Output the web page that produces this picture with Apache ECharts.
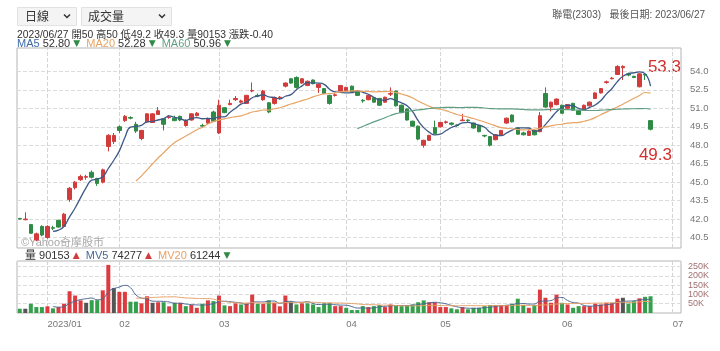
<!DOCTYPE html>
<html>
<head>
<meta charset="utf-8">
<script src="https://cdn.jsdelivr.net/npm/echarts@6/dist/echarts.min.js"></script>
<style>
html, body { margin: 0; padding: 0; background: #fff; }
#main { width: 720px; height: 351px; }
</style>
</head>
<body>
<div id="main"></div>
<script>
// 交易日 (含 6/28 之後未有資料的日期)
var dates = [
  '2022/12/26','2022/12/27','2022/12/28','2022/12/29','2022/12/30',
  '2023/01/03','2023/01/04','2023/01/05','2023/01/06','2023/01/09','2023/01/10','2023/01/11','2023/01/12','2023/01/13','2023/01/16','2023/01/17','2023/01/30','2023/01/31',
  '2023/02/01','2023/02/02','2023/02/03','2023/02/06','2023/02/07','2023/02/08','2023/02/09','2023/02/10','2023/02/13','2023/02/14','2023/02/15','2023/02/16','2023/02/17','2023/02/20','2023/02/21','2023/02/22','2023/02/23','2023/02/24',
  '2023/03/01','2023/03/02','2023/03/03','2023/03/06','2023/03/07','2023/03/08','2023/03/09','2023/03/10','2023/03/13','2023/03/14','2023/03/15','2023/03/16','2023/03/17','2023/03/20','2023/03/21','2023/03/22','2023/03/23','2023/03/24','2023/03/27','2023/03/28','2023/03/29','2023/03/30','2023/03/31',
  '2023/04/06','2023/04/07','2023/04/10','2023/04/11','2023/04/12','2023/04/13','2023/04/14','2023/04/17','2023/04/18','2023/04/19','2023/04/20','2023/04/21','2023/04/24','2023/04/25','2023/04/26','2023/04/27','2023/04/28',
  '2023/05/02','2023/05/03','2023/05/04','2023/05/05','2023/05/08','2023/05/09','2023/05/10','2023/05/11','2023/05/12','2023/05/15','2023/05/16','2023/05/17','2023/05/18','2023/05/19','2023/05/22','2023/05/23','2023/05/24','2023/05/25','2023/05/26','2023/05/29','2023/05/30','2023/05/31',
  '2023/06/01','2023/06/02','2023/06/05','2023/06/06','2023/06/07','2023/06/08','2023/06/09','2023/06/12','2023/06/13','2023/06/14','2023/06/15','2023/06/16','2023/06/19','2023/06/20','2023/06/21','2023/06/26','2023/06/27','2023/06/28','2023/06/29','2023/06/30',
  '2023/07/03','2023/07/04'
];

var monthStarts = ['2023/01/03','2023/02/01','2023/03/01','2023/04/06','2023/05/02','2023/06/01','2023/07/03'];
var monthLabels = ['2023/01','02','03','04','05','06','07'];
var priceTicks = [40.5, 42.0, 43.5, 45.0, 46.5, 48.0, 49.5, 51.0, 52.5, 54.0];

var openP = [
  42.05,41.95,41.55,40.3,41.4,40.5,41.3,41.9,41.4,43.6,
  44.55,45.2,45.4,45.8,45.3,45.0,47.9,48.3,49.5,50.0,
  50.25,49.7,48.55,49.9,49.85,50.5,50.15,50.25,50.2,50.35,
  49.6,50.05,50.4,49.6,49.8,50.7,49.0,51.05,51.3,51.7,
  51.5,51.4,52.4,52.05,51.7,51.45,51.4,51.8,52.8,53.4,
  53.5,53.05,52.85,53.3,52.7,52.6,52.05,52.05,52.4,52.45,
  52.8,52.4,51.65,51.7,51.85,51.8,51.5,52.15,52.4,51.25,
  50.95,49.95,49.55,48.0,48.4,49.45,49.5,49.85,49.8,49.65,
  50.0,50.05,49.8,49.6,48.8,48.7,48.45,48.8,49.8,50.45,
  49.4,49.0,48.8,49.2,49.1,52.2,51.1,51.3,51.25,51.0,
  51.4,50.8,50.9,51.2,51.8,52.25,53.1,53.4,53.75,54.3,
  53.8,53.6,52.75,53.75,50.0
];
var closeP = [
  42.0,42.0,40.85,40.8,40.7,41.4,41.25,41.35,42.4,44.5,
  45.0,45.45,45.45,45.4,44.9,46.0,48.8,48.8,49.2,50.35,
  50.2,49.15,49.2,50.55,50.55,50.8,49.7,50.3,50.0,50.05,
  50.0,50.55,50.6,49.55,50.15,49.95,51.25,50.65,51.4,51.8,
  51.6,52.05,52.45,52.0,52.4,50.7,51.85,51.9,53.05,53.05,
  52.7,53.4,53.2,53.0,52.95,52.2,51.4,52.1,52.85,52.7,
  52.3,52.05,51.6,52.05,51.5,51.25,51.9,52.2,51.2,50.65,
  50.05,49.55,48.5,48.4,48.8,48.95,49.85,49.9,49.7,49.6,
  50.05,50.0,49.4,49.1,48.75,48.0,48.85,49.2,50.2,49.9,
  48.9,48.85,49.15,48.85,50.4,51.1,51.5,51.75,50.6,51.3,
  50.85,50.5,51.25,51.5,52.25,52.6,53.15,53.45,54.4,54.4,
  53.7,53.5,53.8,53.7,49.3
];
var lowP = [
  41.95,41.9,40.8,40.2,40.6,40.4,41.1,41.3,41.35,43.4,
  44.4,45.1,45.2,45.3,44.7,44.9,47.5,48.1,49.0,49.9,
  50.1,49.0,48.4,49.8,49.8,50.45,49.2,50.15,49.95,49.95,
  49.5,50.0,50.35,49.4,49.7,49.9,48.9,50.6,51.25,51.6,
  51.4,51.35,52.3,51.9,51.6,50.6,51.3,51.7,52.7,53.0,
  52.6,53.0,52.8,52.95,52.25,52.15,51.3,51.95,52.35,52.4,
  52.25,52.0,51.45,51.65,51.45,51.2,51.45,52.0,51.15,50.6,
  50.0,49.5,48.4,47.8,48.35,48.9,49.45,49.75,49.6,49.5,
  49.95,49.9,49.35,49.05,48.65,47.9,48.4,48.75,49.75,49.85,
  48.85,48.8,48.75,48.8,49.05,51.05,50.75,51.25,50.55,50.95,
  50.8,50.45,50.85,51.15,51.75,52.2,53.0,53.35,53.7,53.3,
  53.6,53.45,52.7,53.3,49.2
];
var highP = [
  42.1,42.55,41.6,40.9,41.5,41.5,41.45,41.95,42.5,44.6,
  45.1,45.6,45.6,45.95,45.35,46.1,48.9,49.0,49.6,50.45,
  50.35,49.9,49.25,50.6,50.6,51.1,50.2,50.45,50.4,50.4,
  50.1,50.6,50.7,49.75,50.25,50.8,51.7,51.1,51.7,52.0,
  51.7,52.1,53.1,52.2,52.5,51.5,51.95,52.0,53.1,53.45,
  53.6,53.45,53.25,53.35,53.0,52.65,52.1,52.2,52.9,52.75,
  52.85,52.45,51.75,52.1,51.9,51.85,51.95,52.7,52.45,51.3,
  51.0,50.0,49.6,48.45,48.85,50.0,49.9,50.0,49.85,49.7,
  50.55,50.1,49.85,49.65,48.85,48.75,48.9,49.25,50.25,50.5,
  49.45,49.1,49.2,49.25,50.7,52.7,51.55,51.8,51.3,51.35,
  51.45,50.85,51.3,51.55,52.3,52.65,53.25,53.55,54.5,54.5,
  53.9,53.65,53.85,53.85,50.0
];
var volumes = [
  23000,23000,50000,32000,32000,36000,25000,32000,50000,117000,
  94000,68000,55000,69000,69000,122000,259000,135000,114000,114000,
  61000,61000,52000,90000,55000,58000,58000,36000,55000,55000,
  37000,43000,28000,50000,68000,64000,94000,41000,37000,52000,
  46000,52000,99000,50000,50000,68000,55000,36000,94000,61000,
  46000,52000,52000,46000,32000,52000,55000,37000,37000,28000,
  16000,16000,37000,32000,37000,43000,32000,46000,43000,37000,
  41000,46000,58000,68000,58000,58000,32000,32000,25000,20000,
  32000,20000,28000,28000,37000,43000,43000,43000,43000,50000,
  77000,43000,28000,43000,126000,82000,55000,99000,55000,46000,
  28000,37000,37000,37000,50000,46000,55000,55000,77000,82000,
  51000,64000,79000,87000,90153
];

var UP = '#d23b3b', DOWN = '#2f8a45', FLAT = '#555555';
var VUP = '#dc3b3f', VDOWN = '#34a04c';

function calcMA(arr, n) {
  var out = [];
  for (var i = 0; i < arr.length; i++) {
    if (i < n + 1) { out.push('-'); continue; }
    var sum = 0;
    for (var j = i - n + 1; j <= i; j++) sum += arr[j];
    out.push(+(sum / n).toFixed(3));
  }
  return out;
}

var candles = openP.map(function (o, i) {
  return [o, closeP[i], lowP[i], highP[i]];
});

// 量的顏色依收盤價與前一日相比
var volBars = volumes.map(function (v, i) {
  var prev = i > 0 ? closeP[i - 1] : openP[0];
  var c = closeP[i] > prev ? VUP : (closeP[i] < prev ? VDOWN : FLAT);
  return { value: v, itemStyle: { color: c } };
});

var monthLines = monthStarts.map(function (d) { return { xAxis: d }; });

var chart = echarts.init(document.getElementById('main'));

var option = {
  animation: false,
  textStyle: { fontFamily: '"Liberation Sans", Arial, "Noto Sans CJK TC", sans-serif' },
  grid: [
    { left: 17, right: 39, top: 48, height: 200, show: true, borderColor: '#b5b5b5', borderWidth: 1 },
    { left: 17, right: 39, top: 261, height: 52, show: true, borderColor: '#b5b5b5', borderWidth: 1 }
  ],
  xAxis: [
    {
      type: 'category', gridIndex: 0, data: dates, boundaryGap: true,
      axisLine: { show: false }, axisTick: { show: false }, axisLabel: { show: false },
      splitLine: { show: false }
    },
    {
      type: 'category', gridIndex: 1, data: dates, boundaryGap: true,
      axisLine: { show: false }, axisTick: { show: false }, splitLine: { show: false },
      axisLabel: {
        color: '#777', fontSize: 9.5, align: 'left', margin: 7,
        interval: function (idx, val) { return monthStarts.indexOf(val) >= 0; },
        formatter: function (val) {
          var k = monthStarts.indexOf(val);
          return k >= 0 ? monthLabels[k] : '';
        }
      }
    }
  ],
  yAxis: [
    {
      type: 'value', gridIndex: 0, position: 'right', min: 39.65, max: 55.9,
      axisLine: { show: false },
      axisTick: { show: false, customValues: priceTicks },
      axisLabel: {
        customValues: priceTicks, color: '#777', fontSize: 9.5, margin: 9,
        formatter: function (v) { return v.toFixed(1); }
      },
      splitLine: { show: true, lineStyle: { type: 'dashed', color: '#dcdcdc' } }
    },
    {
      type: 'value', gridIndex: 1, position: 'right', min: 0, max: 280000, interval: 50000,
      axisLine: { show: false }, axisTick: { show: false },
      axisLabel: {
        color: '#a07070', fontSize: 9, margin: 7, showMinLabel: false, showMaxLabel: false,
        formatter: function (v) { return v === 0 ? '' : (v / 1000) + 'K'; }
      },
      splitLine: { show: true, lineStyle: { type: 'dashed', color: '#dcdcdc' } }
    }
  ],
  series: [
    {
      name: 'K', type: 'candlestick', xAxisIndex: 0, yAxisIndex: 0,
      data: candles, barWidth: 4,
      itemStyle: {
        color: UP, color0: DOWN, borderColor: UP, borderColor0: DOWN,
        borderColorDoji: FLAT, borderWidth: 1
      },
      markLine: {
        silent: true, symbol: 'none', z: 1, animation: false,
        label: { show: false },
        lineStyle: { type: 'dashed', color: '#d4d4d4', width: 1 },
        emphasis: { disabled: true },
        data: monthLines
      }
    },
    {
      name: 'MA5', type: 'line', xAxisIndex: 0, yAxisIndex: 0, data: calcMA(closeP, 5),
      smooth: true, showSymbol: false, lineStyle: { color: '#3d5a87', width: 1.3 }
    },
    {
      name: 'MA20', type: 'line', xAxisIndex: 0, yAxisIndex: 0, data: calcMA(closeP, 20),
      smooth: true, showSymbol: false, lineStyle: { color: '#e8a464', width: 1.2 }
    },
    {
      name: 'MA60', type: 'line', xAxisIndex: 0, yAxisIndex: 0, data: calcMA(closeP, 60),
      smooth: true, showSymbol: false, lineStyle: { color: '#5f9e83', width: 1.2 }
    },
    {
      name: '量', type: 'bar', xAxisIndex: 1, yAxisIndex: 1, data: volBars, barWidth: 4,
      markLine: {
        silent: true, symbol: 'none', z: 1, animation: false,
        label: { show: false },
        lineStyle: { type: 'dashed', color: '#d4d4d4', width: 1 },
        emphasis: { disabled: true },
        data: monthLines
      }
    },
    {
      name: 'MV5', type: 'line', xAxisIndex: 1, yAxisIndex: 1, data: calcMA(volumes, 5),
      smooth: true, showSymbol: false, lineStyle: { color: '#4a6794', width: 1 }
    },
    {
      name: 'MV20', type: 'line', xAxisIndex: 1, yAxisIndex: 1, data: calcMA(volumes, 20),
      smooth: true, showSymbol: false, lineStyle: { color: '#e6a067', width: 1 }
    }
  ],
  graphic: [
    { type: 'rect', shape: { x: 17.5, y: 7.5, width: 59, height: 18 }, style: { fill: '#f4f4f4', stroke: '#e2e2e2' } },
    { type: 'text', x: 25, y: 16.5, style: { text: '日線', font: '12px "Noto Sans CJK TC"', fill: '#333', verticalAlign: 'middle' } },
    { type: 'polyline', shape: { points: [[64, 14.5], [67, 17.5], [70, 14.5]] }, style: { stroke: '#333', lineWidth: 1.5, fill: null } },
    { type: 'rect', shape: { x: 81.5, y: 7.5, width: 90, height: 18 }, style: { fill: '#f4f4f4', stroke: '#e2e2e2' } },
    { type: 'text', x: 88, y: 16.5, style: { text: '成交量', font: '12px "Noto Sans CJK TC"', fill: '#333', verticalAlign: 'middle' } },
    { type: 'polyline', shape: { points: [[159, 14.5], [162, 17.5], [165, 14.5]] }, style: { stroke: '#333', lineWidth: 1.5, fill: null } },
    {
      type: 'text', x: 705, y: 15,
      style: { text: '聯電(2303)   最後日期: 2023/06/27', font: '10px "Liberation Sans", "Noto Sans CJK TC"', fill: '#555', align: 'right', verticalAlign: 'middle' }
    },
    {
      type: 'text', x: 17, y: 35,
      style: { text: '2023/06/27 開50 高50 低49.2 收49.3 量90153 漲跌-0.40', font: '10.3px "Liberation Sans", "Noto Sans CJK TC"', fill: '#333', verticalAlign: 'middle' }
    },
    {
      type: 'text', x: 17, y: 43.5,
      style: {
        text: '{b|MA5} {k|52.80} {g|▼}  {o|MA20} {k|52.28} {g|▼}  {t|MA60} {k|50.96} {g|▼}',
        font: '11px "Liberation Sans"', verticalAlign: 'middle',
        rich: {
          b: { fill: '#3d6aa8', font: '11px "Liberation Sans"' },
          o: { fill: '#e8a464', font: '11px "Liberation Sans"' },
          t: { fill: '#5f9e83', font: '11px "Liberation Sans"' },
          k: { fill: '#333', font: '11px "Liberation Sans"' },
          g: { fill: '#2f8a45', font: '9px "DejaVu Sans"' }
        }
      }
    },
    { type: 'text', x: 681, y: 67.5, style: { text: '53.3', font: '17px "Liberation Sans"', fill: '#d0312d', align: 'right', verticalAlign: 'middle' } },
    { type: 'text', x: 672, y: 155, style: { text: '49.3', font: '17px "Liberation Sans"', fill: '#d0312d', align: 'right', verticalAlign: 'middle' } },
    { type: 'text', x: 21, y: 243, style: { text: '©Yahoo奇摩股市', font: '11px "Liberation Sans", "Noto Sans CJK TC"', fill: '#a8a8a8', verticalAlign: 'middle' } },
    {
      type: 'text', x: 25, y: 256,
      style: {
        text: '{k|量} {k|90153} {r|▲}  {b|MV5} {k|74277} {r|▲}  {o|MV20} {k|61244} {g|▼}',
        font: '11px "Liberation Sans"', verticalAlign: 'middle',
        rich: {
          k: { fill: '#333', font: '11px "Liberation Sans", "Noto Sans CJK TC"' },
          b: { fill: '#4a6794', font: '11px "Liberation Sans"' },
          o: { fill: '#e6a067', font: '11px "Liberation Sans"' },
          r: { fill: '#d23b3b', font: '9px "DejaVu Sans"' },
          g: { fill: '#2f8a45', font: '9px "DejaVu Sans"' }
        }
      }
    }
  ]
};

chart.setOption(option);
</script>
</body>
</html>
